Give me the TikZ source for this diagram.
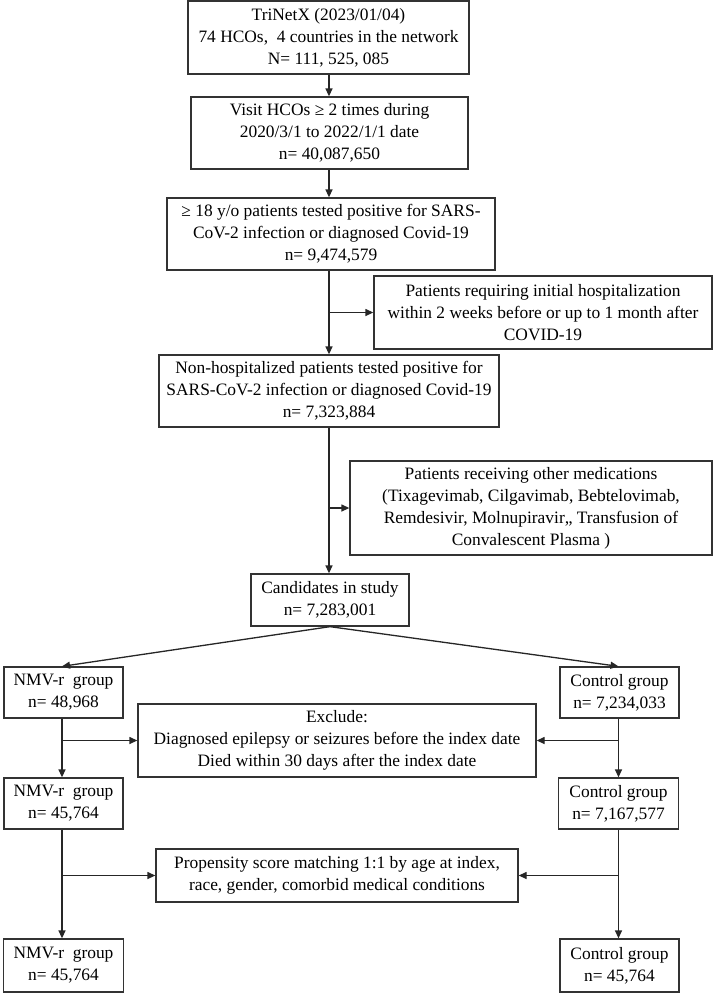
\documentclass[tikz,border=0pt]{standalone}
\usepackage{fontspec}
\setmainfont{Liberation Serif}
\usetikzlibrary{arrows.meta}
\begin{document}
\begin{tikzpicture}[x=1pt,y=-1pt,
  box/.style={draw=black!80, line width=1.3pt, align=center, inner sep=1pt,
    font=\fontsize{17.4}{22}\selectfont, anchor=center},
  arr/.style={draw=black!85, line width=1.3pt, -{Triangle[length=8pt,width=7pt]}}]
\useasboundingbox (0,0) rectangle (714,994);
\fill[white] (0,0) rectangle (714,994);
% main column
\node[box, minimum width=281pt, minimum height=73pt] (b1) at (328.5,37.5)
  {TriNetX (2023/01/04)\\74 HCOs,\ \ 4 countries in the network\\N= 111, 525, 085};
\node[box, minimum width=277pt, minimum height=72pt] (b2) at (329.5,133)
  {Visit HCOs ≥ 2 times during\\2020/3/1 to 2022/1/1 date\\n= 40,087,650};
\node[box, minimum width=328pt, minimum height=72pt] (b3) at (331,234)
  {≥ 18 y/o patients tested positive for SARS-\\CoV-2 infection or diagnosed Covid-19\\n= 9,474,579};
\node[box, minimum width=338pt, minimum height=73pt] (s1) at (543,312.5)
  {Patients requiring initial hospitalization\\within 2 weeks before or up to 1 month after\\COVID-19};
\node[box, minimum width=340pt, minimum height=72pt] (b4) at (329,391)
  {Non-hospitalized patients tested positive for\\SARS-CoV-2 infection or diagnosed Covid-19\\n= 7,323,884};
\node[box, minimum width=362pt, minimum height=94pt] (s2) at (531,508)
  {Patients receiving other medications\\(Tixagevimab, Cilgavimab, Bebtelovimab,\\Remdesivir, Molnupiravir,, Transfusion of\\Convalescent Plasma )};
\node[box, minimum width=158pt, minimum height=52pt] (cand) at (330,600)
  {Candidates in study\\n= 7,283,001};
% two arms
\node[box, minimum width=119pt, minimum height=51pt] (n1) at (63.5,692.5)
  {NMV-r\ \ group\\n= 48,968};
\node[box, minimum width=119pt, minimum height=51pt] (c1) at (619.5,692.5)
  {Control group\\n= 7,234,033};
\node[box, minimum width=398pt, minimum height=73pt] (ex) at (337,740.5)
  {Exclude:\\Diagnosed epilepsy or seizures before the index date\\Died within 30 days after the index date};
\node[box, minimum width=119pt, minimum height=51pt] (n2) at (63.5,803.5)
  {NMV-r\ \ group\\n= 45,764};
\node[box, minimum width=120pt, minimum height=51pt] (c2) at (618.5,803.5)
  {Control group\\n= 7,167,577};
\node[box, minimum width=362pt, minimum height=53pt] (pm) at (337,875.5)
  {Propensity score matching 1:1 by age at index,\\race, gender, comorbid medical conditions};
\node[box, minimum width=120pt, minimum height=53pt] (n3) at (63.5,965.5)
  {NMV-r\ \ group\\n= 45,764};
\node[box, minimum width=119pt, minimum height=53pt] (c3) at (619.5,965.5)
  {Control group\\n= 45,764};
% connectors
\coordinate (mx) at (329,0);
\coordinate (lx) at (62,0);
\coordinate (rx) at (618.5,0);
\draw[arr] (b1.south -| mx) -- (b2.north -| mx);
\draw[arr] (b2.south -| mx) -- (b3.north -| mx);
\draw[arr] (b3.south -| mx) -- (b4.north -| mx);
\draw[arr] (s1.west -| mx) -- (s1.west);
\draw[arr] (b4.south -| mx) -- (cand.north -| mx);
\draw[arr] (s2.west -| mx) -- (s2.west);
\draw[arr] (cand.south) -- (n1.north -| lx);
\draw[arr] (cand.south) -- (c1.north -| rx);
\draw[arr] (n1.south -| lx) -- (n2.north -| lx);
\draw[arr] (ex.west -| lx) -- (ex.west);
\draw[arr] (c1.south -| rx) -- (c2.north -| rx);
\draw[arr] (ex.east -| rx) -- (ex.east);
\draw[arr] (n2.south -| lx) -- (n3.north -| lx);
\draw[arr] (pm.west -| lx) -- (pm.west);
\draw[arr] (c2.south -| rx) -- (c3.north -| rx);
\draw[arr] (pm.east -| rx) -- (pm.east);
\end{tikzpicture}
\end{document}
